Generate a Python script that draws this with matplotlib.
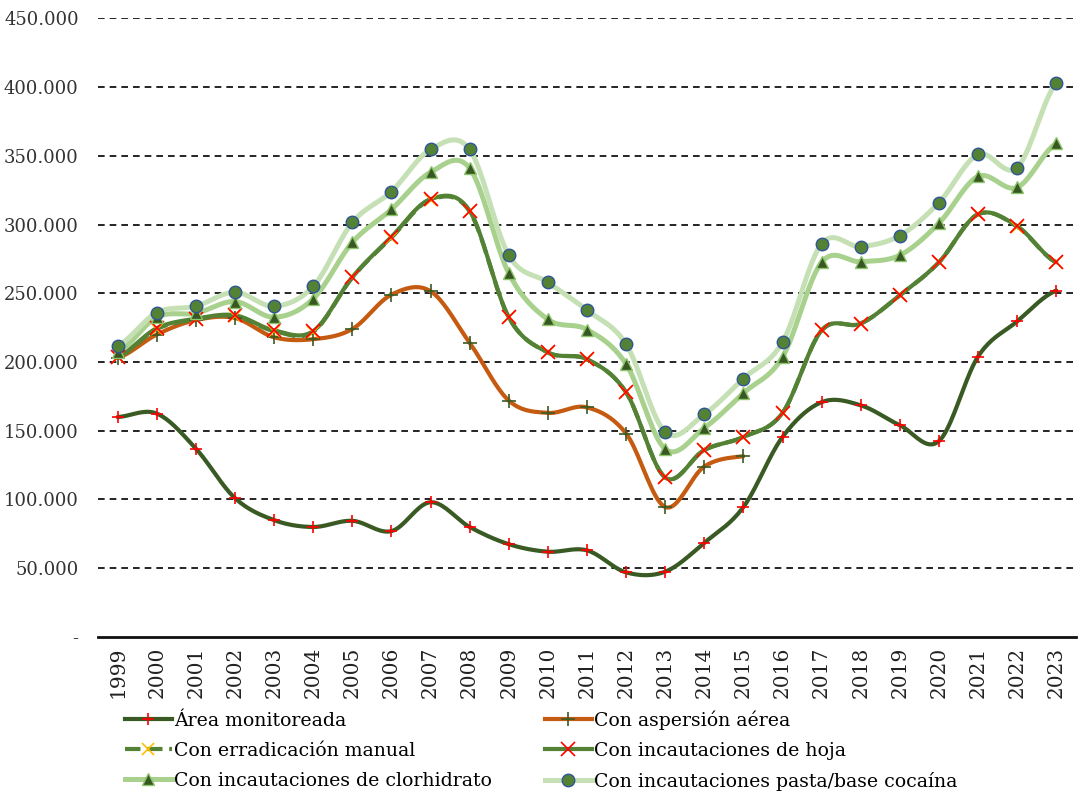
import numpy as np
import matplotlib
matplotlib.use('Agg')
import matplotlib.pyplot as plt

years = [str(y) for y in range(1999, 2024)]

area_monitoreada = [160000, 162500, 137000, 101000, 85000, 80000, 84500, 77000, 98000, 80000,
                    67500, 62000, 63000, 47000, 47500, 68500, 94500, 145500, 170800, 168500,
                    154000, 142500, 204000, 229600, 252000]
aspersion_aerea = [203000, 220000, 230500, 232000, 218000, 216600, 224000, 249000, 251500, 214000,
                   172000, 163000, 167000, 148000, 94500, 124000, 131500]
erradicacion_manual = [203500, 224000, 231000, 233500, 222500, 222000, 261500, 290500, 318000, 309500,
                       232500, 207000, 202000, 178000, 116000, 136000, 145500, 163000, 223000, 228000,
                       248500, 272500, 307500, 298500, 272500]
incautaciones_hoja = [204000, 224600, 231500, 234000, 223000, 222500, 261700, 291000, 318500, 310000,
                      232600, 207000, 202000, 178000, 116000, 136000, 145500, 163000, 223000, 228000,
                      248600, 272600, 307500, 298800, 272600]
incautaciones_clorhidrato = [207000, 232600, 235500, 244000, 232600, 246000, 287000, 311000, 338000, 341000,
                             264600, 231000, 223600, 198500, 136700, 152000, 177400, 203600, 272600, 273000,
                             277700, 301000, 335000, 327000, 359000]
incautaciones_pasta = [212000, 236000, 240600, 250800, 240600, 255000, 301500, 324000, 354600, 354600,
                       277700, 258000, 237700, 213000, 149000, 162000, 188000, 214500, 286000, 284000,
                       292000, 316000, 351000, 341500, 402700]

yticks = [0, 50000, 100000, 150000, 200000, 250000, 300000, 350000, 400000, 450000]
ytick_labels = ['-', '50.000', '100.000', '150.000', '200.000', '250.000',
                '300.000', '350.000', '400.000', '450.000']


def smooth(vals, n=20):
    # Catmull-Rom curve through the points, like Excel's smoothed line
    p = np.array(vals, dtype=float)
    x = np.arange(len(p), dtype=float)
    px = np.concatenate([[2 * x[0] - x[1]], x, [2 * x[-1] - x[-2]]])
    py = np.concatenate([[p[0]], p, [p[-1]]])
    xs, ys = [], []
    t = np.linspace(0, 1, n, endpoint=False)
    for i in range(1, len(px) - 2):
        for arr, out in ((px, xs), (py, ys)):
            p0, p1, p2, p3 = arr[i - 1], arr[i], arr[i + 1], arr[i + 2]
            c = 0.5 * ((2 * p1) + (-p0 + p2) * t + (2 * p0 - 5 * p1 + 4 * p2 - p3) * t ** 2
                       + (-p0 + 3 * p1 - 3 * p2 + p3) * t ** 3)
            out.extend(c)
    xs.append(x[-1])
    ys.append(p[-1])
    return np.array(xs), np.array(ys)


plt.rcParams['font.family'] = ['DejaVu Serif']
fig = plt.figure(figsize=(10.78, 7.98), dpi=100)
ax = fig.add_axes([0.091, 0.2018, 0.907, 0.7752])

series = [
    (area_monitoreada, 'Área monitoreada', '#3a5a24', '-', 3.0, '+', 'red', 'red', 9, 1.2),
    (aspersion_aerea, 'Con aspersión aérea', '#c55a11', '-', 3.0, '+', '#3a5a24', '#3a5a24', 10, 1.2),
    (erradicacion_manual, 'Con erradicación manual', '#548235', '--', 3.0, 'x', '#ffc000', '#ffc000', 9, 1.2),
    (incautaciones_hoja, 'Con incautaciones de hoja', '#548235', '-', 3.0, 'x', 'red', 'red', 10, 1.2),
    (incautaciones_clorhidrato, 'Con incautaciones de clorhidrato', '#a9d18e', '-', 3.6, '^', '#385723', '#8cc56a', 8, 1.0),
    (incautaciones_pasta, 'Con incautaciones pasta/base cocaína', '#c5e0b4', '-', 3.6, 'o', '#548235', '#2f5597', 9, 1.0),
]

handles = []
for vals, label, color, ls, lw, mk, mfc, mec, ms, mew in series:
    sx, sy = smooth(vals)
    ax.plot(sx, sy, color=color, lw=lw, ls=ls, solid_capstyle='round', zorder=2)
    ax.plot(np.arange(len(vals)), vals, ls='none', marker=mk, ms=ms, mfc=mfc, mec=mec, mew=mew, zorder=3)
    h, = ax.plot([], [], color=color, lw=lw, ls=ls, marker=mk, ms=ms, mfc=mfc, mec=mec, mew=mew, label=label)
    handles.append(h)

ax.set_xlim(-0.5, len(years) - 0.5)
ax.set_ylim(0, 450000)
ax.set_xticks(range(len(years)))
ax.set_xticklabels(years, rotation=90, fontsize=14.5, color='#222222')
ax.set_yticks(yticks)
ax.set_yticklabels(ytick_labels, fontsize=13, color='#333333')
ax.tick_params(axis='x', length=0, pad=7)
ax.tick_params(axis='y', length=0, pad=14)
for y in yticks[1:]:
    ax.axhline(y, color='black', lw=1.2, ls=(0, (4, 3)), zorder=1)
for s in ['top', 'right', 'left']:
    ax.spines[s].set_visible(False)
ax.spines['bottom'].set_linewidth(2)
ax.spines['bottom'].set_color('#111111')

# legend is filled row by row in the original
order = [0, 2, 4, 1, 3, 5]
fig.legend(handles=[handles[i] for i in order], ncol=2, loc='upper left',
           bbox_to_anchor=(0.1085, 0.1197), frameon=False, fontsize=13.6,
           handlelength=2.5, handletextpad=0.1, columnspacing=2.82,
           labelspacing=0.65, borderaxespad=0)

fig.savefig('out.png', dpi=100)
plt.close(fig)
